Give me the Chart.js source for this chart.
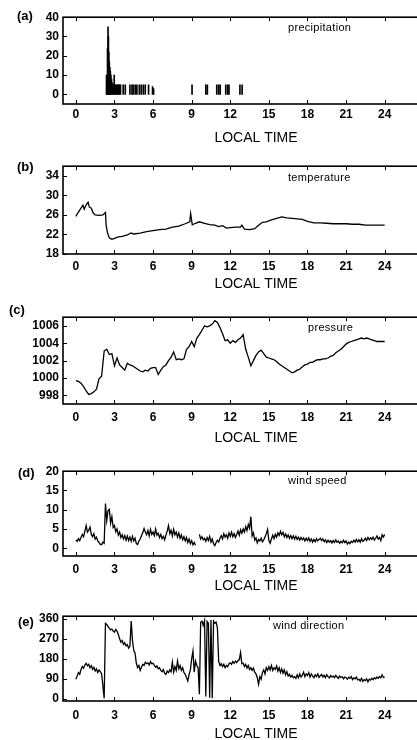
<!DOCTYPE html>
<html>
<head>
<meta charset="utf-8">
<title>Weather station record</title>
<script src="https://cdn.jsdelivr.net/npm/chart.js@4.4.1/dist/chart.umd.min.js"></script>
<style>
  html, body { margin: 0; padding: 0; background: #fff; width: 417px; height: 740px; overflow: hidden; }
  canvas { position: absolute; left: 0; }
  .tag { position: absolute; font: bold 13px "Liberation Sans", Arial, sans-serif; line-height: 14px; color: #000; }
  .name { position: absolute; font: 11px "Liberation Sans", Arial, sans-serif; line-height: 14px; color: #000; letter-spacing: 0.3px; white-space: nowrap; }
</style>
</head>
<body>
<canvas id="chartA" width="458" height="141" style="top:6px"></canvas>
<canvas id="chartB" width="458" height="138" style="top:155px"></canvas>
<canvas id="chartC" width="458" height="141" style="top:306px"></canvas>
<canvas id="chartD" width="458" height="135" style="top:460px"></canvas>
<canvas id="chartE" width="458" height="138" style="top:605px"></canvas>

<div class="tag" style="left:17px;top:9px">(a)</div>
<div class="tag" style="left:17px;top:160px">(b)</div>
<div class="tag" style="left:9px;top:303px">(c)</div>
<div class="tag" style="left:18px;top:466px">(d)</div>
<div class="tag" style="left:18px;top:615px">(e)</div>

<div class="name" style="left:288px;top:20px">precipitation</div>
<div class="name" style="left:288px;top:170px">temperature</div>
<div class="name" style="left:308px;top:320px">pressure</div>
<div class="name" style="left:288px;top:473px">wind speed</div>
<div class="name" style="left:273px;top:618px">wind direction</div>

<script>
// Shared x axis (local time, hours)
const hourTicks = [0, 3, 6, 9, 12, 15, 18, 21, 24];

// (a) precipitation impulses
const precipTimes = [2.38, 2.42, 2.46, 2.5, 2.53, 2.56, 2.6, 2.64, 2.68, 2.72,
  2.77, 2.83, 2.9, 2.98, 3.05, 3.12, 3.19, 3.26, 3.33, 3.4,
  3.47, 3.68, 3.84, 4.2, 4.36, 4.46, 4.61, 4.74, 4.93, 5.08,
  5.24, 5.39, 5.65, 5.96, 6.04, 9.03, 10.1, 10.22, 10.95, 11.1,
  11.22, 11.65, 11.8, 11.9, 12.75, 12.92];
const precipValues = [10, 6, 24, 35, 30, 22, 17, 14, 12, 10,
  8, 6, 5, 10, 5, 5, 5, 5, 5, 5,
  5, 5, 5, 5, 5, 5, 5, 5, 5, 5,
  5, 5, 5, 4, 3, 5, 5, 5, 5, 5,
  5, 5, 5, 5, 5, 5];
const precipTicks = [0, 10, 20, 30, 40];

// (b) temperature
const tempTimes = [0, 0.15, 0.3, 0.45, 0.55, 0.65, 0.8, 0.95, 1.05, 1.2,
  1.35, 1.5, 1.8, 2.1, 2.3, 2.35, 2.45, 2.6, 2.8, 3.0,
  3.3, 3.6, 4.0, 4.3, 4.5, 5.0, 5.5, 6.0, 6.5, 7.0,
  7.5, 8.0, 8.5, 8.85, 8.92, 9.0, 9.05, 9.3, 9.6, 10.0,
  10.4, 10.8, 11.1, 11.4, 11.7, 12.0, 12.4, 12.8, 12.9, 13.1,
  13.5, 13.9, 14.2, 14.5, 14.8, 15.2, 15.6, 16.0, 16.4, 16.8,
  17.2, 17.6, 18.0, 18.5, 19.0, 19.5, 20.0, 20.5, 21.0, 21.5,
  22.0, 22.5, 23.0, 23.5, 24.0];
const tempValues = [25.7, 26.4, 27.0, 27.6, 28.0, 27.2, 28.1, 28.6, 27.6, 27.4,
  26.4, 26.0, 25.9, 26.0, 26.5, 24.0, 22.4, 21.3, 21.0, 21.2,
  21.5, 21.6, 21.9, 22.3, 22.1, 22.3, 22.6, 22.8, 23.0, 23.1,
  23.5, 23.7, 24.2, 24.6, 26.3, 24.8, 24.0, 24.3, 24.6, 24.3,
  24.0, 23.9, 23.6, 23.8, 23.3, 23.4, 23.5, 23.5, 23.9, 23.1,
  23.0, 23.2, 23.9, 24.5, 24.6, 25.0, 25.3, 25.6, 25.4, 25.3,
  25.2, 25.1, 24.7, 24.4, 24.4, 24.3, 24.2, 24.2, 24.2, 24.1,
  24.1, 23.9, 23.9, 23.9, 23.9];
const tempTicks = [18, 22, 26, 30, 34];

// (c) pressure, one reading every 0.2 h from 0 to 24
const pressureStep = 0.2;
const pressureValues = [
  999.7, 999.6, 999.4, 999.0, 998.5, 998.1, 998.2, 998.4, 998.7, 999.9,
  1000.2, 1003.1, 1003.3, 1002.7, 1002.8, 1001.4, 1002.3, 1001.5, 1001.2, 1000.9,
  1001.7, 1001.5, 1001.4, 1001.2, 1001.0, 1000.8, 1000.7, 1000.9, 1000.8, 1001.1,
  1001.2, 1001.2, 1000.4, 1000.9, 1001.3, 1001.5, 1002.0, 1002.4, 1003.0, 1002.1,
  1002.2, 1002.1, 1002.2, 1003.3, 1003.6, 1004.2, 1003.6, 1004.6, 1005.0, 1005.5,
  1006.0, 1005.9, 1006.0, 1006.2, 1006.6, 1006.4, 1005.8, 1005.1, 1004.3, 1004.4,
  1004.0, 1004.3, 1004.1, 1004.4, 1004.6, 1005.0, 1003.3, 1002.4, 1001.4, 1002.0,
  1002.6, 1003.0, 1003.2, 1002.8, 1002.4, 1002.3, 1002.2, 1002.1, 1001.9, 1001.6,
  1001.4, 1001.2, 1001.0, 1000.8, 1000.6, 1000.7, 1000.9, 1001.0, 1001.3, 1001.5,
  1001.6, 1001.8, 1001.8, 1002.0, 1002.1, 1002.1, 1002.2, 1002.2, 1002.3, 1002.5,
  1002.6, 1002.9, 1003.1, 1003.3, 1003.6, 1003.9, 1004.1, 1004.2, 1004.3, 1004.4,
  1004.5, 1004.6, 1004.5, 1004.6, 1004.5, 1004.4, 1004.3, 1004.2, 1004.2, 1004.2,
  1004.2];
const pressureTicks = [998, 1000, 1002, 1004, 1006];

// (d) wind speed, one reading every 0.1 h (null = missing)
const windStep = 0.1;
const windSpeed = [
  2.2, 1.8, 2.5, 2.0, 2.8, 3.6, 3.0, 4.4, 5.9, 4.2,
  4.7, 5.5, 3.6, 3.0, 3.8, 2.4, 2.9, 1.9, 1.5, 1.0,
  0.9, 1.6, 1.3, 11.6, 7.2, 9.8, 10.1, 6.5, 8.2, 5.4,
  5.9, 4.3, 5.0, 3.4, 4.2, 2.8, 3.5, 2.4, 3.3, 2.1,
  3.2, 2.0, 2.9, 1.8, 3.1, 1.9, 2.6, 1.2, 1.0, 1.9,
  2.4, 3.3, 4.0, 5.1, 4.2, 3.5, 4.6, 3.2, 4.9, 3.6,
  4.2, 3.3, 5.0, 3.4, 3.9, 2.8, 3.6, 2.5, 3.1, 2.2,
  3.4, 4.5, 5.9, 3.8, 4.7, 3.2, 4.9, 3.5, 4.2, 2.9,
  4.0, 2.6, 3.5, 2.2, 3.0, 1.9, 2.8, 1.5, 2.4, 1.2,
  2.0, 0.9, 1.5, 0.8, null, null, 3.6, 2.4, 3.0, 2.2,
  2.6, 1.8, 2.8, 2.0, 3.1, 1.6, 2.4, 1.2, 0.7, 1.5,
  2.1, 1.6, 2.6, 3.3, 2.4, 3.8, 2.9, 3.5, 2.6, 4.0,
  3.1, 4.2, 3.0, 3.8, 2.8, 3.6, 4.5, 3.4, 4.8, 3.9,
  5.0, 4.2, 5.6, 4.6, 6.2, 5.2, 8.2, 3.2, 4.0, 2.1,
  2.7, 1.4, 2.3, 1.9, 2.6, 1.7, 2.2, 2.9, 3.8, 4.9,
  2.0, 1.3, 2.4, 3.4, 2.5, 3.6, 2.9, 4.0, 3.3, 4.4,
  3.5, 4.1, 3.0, 3.7, 2.8, 3.5, 2.6, 3.3, 2.5, 3.2,
  2.4, 3.1, 2.3, 2.9, 2.1, 2.8, 2.2, 2.7, 1.9, 2.6,
  2.0, 2.7, 1.8, 2.4, 1.6, 2.3, 1.7, 2.5, 1.9, 2.3,
  2.6, 2.0, 2.4, 1.7, 2.2, 1.5, 2.1, 1.6, 2.0, 1.4,
  2.0, 1.5, 2.2, 1.6, 1.9, 1.3, 1.8, 1.4, 2.1, 1.5,
  1.9, 1.1, 1.6, 1.2, 1.8, 1.5, 2.1, 1.6, 2.3, 1.7,
  2.2, 1.6, 2.5, 1.8, 2.1, 2.6, 2.0, 2.8, 2.2, 2.7,
  2.3, 2.9, 2.1, 2.6, 3.2, 2.4, 2.8, 2.0, 3.5, 2.9,
  3.6];
const windSpeedTicks = [0, 5, 10, 15, 20];

// (e) wind direction, one reading every 0.1 h
const windDirection = [
  88, 102, 118, 110, 132, 145, 138, 152, 160, 148,
  155, 140, 150, 132, 142, 125, 135, 118, 130, 122,
  112, 60, 2, 340, 335, 325, 318, 310, 314, 305,
  300, 312, 305, 290, 270, 255, 262, 245, 252, 238,
  244, 228, 236, 350, 262, 218, 205, 160, 140, 150,
  128, 142, 155, 150, 165, 158, 162, 152, 168, 158,
  160, 150, 142, 148, 135, 140, 128, 122, 132, 115,
  110, 125, 118, 130, 122, 165, 120, 145, 128, 170,
  135, 150, 128, 140, 118, 110, 95, 80, 110, 130,
  180, 215, 120, 170, 150, 140, 20, 345, 350, 330,
  352, 10, 348, 340, 5, 355, 2, 350, 340, 345,
  320, 168, 150, 158, 145, 155, 140, 150, 145, 158,
  162, 155, 168, 160, 170, 163, 172, 175, 208, 158,
  160, 145, 155, 138, 150, 132, 140, 128, 138, 120,
  112, 95, 65, 100, 88, 118, 130, 112, 140, 128,
  145, 130, 150, 128, 140, 132, 148, 125, 140, 118,
  135, 115, 130, 108, 122, 102, 110, 98, 105, 95,
  100, 92, 108, 95, 112, 98, 106, 120, 100, 112,
  105, 118, 98, 112, 102, 95, 108, 100, 112, 96,
  104, 110, 98, 106, 95, 108, 100, 94, 104, 98,
  102, 95, 105, 98, 92, 102, 96, 100, 90, 98,
  95, 88, 97, 92, 100, 86, 94, 90, 98, 85,
  88, 80, 92, 78, 86, 82, 90, 76, 88, 84,
  92, 86, 95, 90, 98, 92, 100, 94, 108, 96,
  98];
const windDirTicks = [0, 90, 180, 270, 360];

const FONT = "'Liberation Sans', Arial, sans-serif";

// pair times with values for a linear x axis
function toPoints(times, values) {
  return values.map((v, i) => ({ x: times[i], y: v }));
}

function stepTimes(values, step) {
  return values.map((v, i) => +(i * step).toFixed(2));
}

// frame box + inward tick marks
const framePlugin = {
  id: "frame",
  afterDraw(chart) {
    const { ctx, chartArea: a, scales } = chart;
    ctx.save();
    ctx.strokeStyle = "#000";
    ctx.lineWidth = 1;
    scales.x.ticks.forEach((t) => {
      const px = Math.round(scales.x.getPixelForValue(t.value)) + 0.5;
      ctx.beginPath();
      ctx.moveTo(px, a.top);
      ctx.lineTo(px, a.top + 4);
      ctx.moveTo(px, a.bottom);
      ctx.lineTo(px, a.bottom - 4);
      ctx.stroke();
    });
    scales.y.ticks.forEach((t) => {
      const py = Math.round(scales.y.getPixelForValue(t.value)) + 0.5;
      ctx.beginPath();
      ctx.moveTo(a.left, py);
      ctx.lineTo(a.left + 4, py);
      ctx.stroke();
    });
    ctx.lineWidth = 1.6;
    ctx.strokeRect(a.left, a.top, a.right - a.left, a.bottom - a.top);
    ctx.restore();
  },
};

function makePanel(id, type, points, cfg) {
  const dataset =
    type === "bar"
      ? { data: points, backgroundColor: "#000", barThickness: 1, borderWidth: 0 }
      : { data: points, borderColor: "#000", borderWidth: 1.3, pointRadius: 0, tension: 0, spanGaps: false };

  return new Chart(document.getElementById(id), {
    type: type,
    data: { datasets: [dataset] },
    options: {
      responsive: false,
      animation: false,
      devicePixelRatio: 1,
      layout: { padding: { top: 8, right: 9, left: 0, bottom: 0 } },
      plugins: { legend: { display: false }, tooltip: { enabled: false } },
      scales: {
        x: {
          type: "linear",
          min: -1,
          max: 29,
          offset: false,
          grid: { display: false, drawTicks: false, offset: false },
          border: { display: false },
          afterBuildTicks: (s) => { s.ticks = hourTicks.map((v) => ({ value: v })); },
          afterFit: (s) => { s.height = cfg.axisH; },
          ticks: {
            padding: cfg.tickPad,
            maxRotation: 0,
            autoSkip: false,
            color: "#000",
            font: { family: FONT, size: 12, weight: "bold" },
            callback: (v) => String(v),
          },
          title: {
            display: true,
            text: "LOCAL TIME",
            color: "#000",
            padding: 0,
            font: { family: FONT, size: 14 },
          },
        },
        y: {
          min: cfg.yMin,
          max: cfg.yMax,
          grid: { display: false, drawTicks: false },
          border: { display: false },
          afterBuildTicks: (s) => { s.ticks = cfg.yTicks.map((v) => ({ value: v })); },
          afterFit: (s) => { s.width = 63; },
          ticks: {
            padding: 4,
            autoSkip: false,
            color: "#000",
            font: { family: FONT, size: 12, weight: "bold" },
            callback: (v) => String(v),
          },
        },
      },
    },
    plugins: [framePlugin],
  });
}

makePanel("chartA", "bar", toPoints(precipTimes, precipValues),
  { yMin: -5, yMax: 40, yTicks: precipTicks, tickPad: 3, axisH: 43 });
makePanel("chartB", "line", toPoints(tempTimes, tempValues),
  { yMin: 18, yMax: 36, yTicks: tempTicks, tickPad: 5, axisH: 39 });
makePanel("chartC", "line", toPoints(stepTimes(pressureValues, pressureStep), pressureValues),
  { yMin: 997, yMax: 1007, yTicks: pressureTicks, tickPad: 6, axisH: 43 });
makePanel("chartD", "line", toPoints(stepTimes(windSpeed, windStep), windSpeed),
  { yMin: -2, yMax: 20, yTicks: windSpeedTicks, tickPad: 6, axisH: 39 });
makePanel("chartE", "line", toPoints(stepTimes(windDirection, windStep), windDirection),
  { yMin: -10, yMax: 372, yTicks: windDirTicks, tickPad: 7, axisH: 42 });
</script>
</body>
</html>
